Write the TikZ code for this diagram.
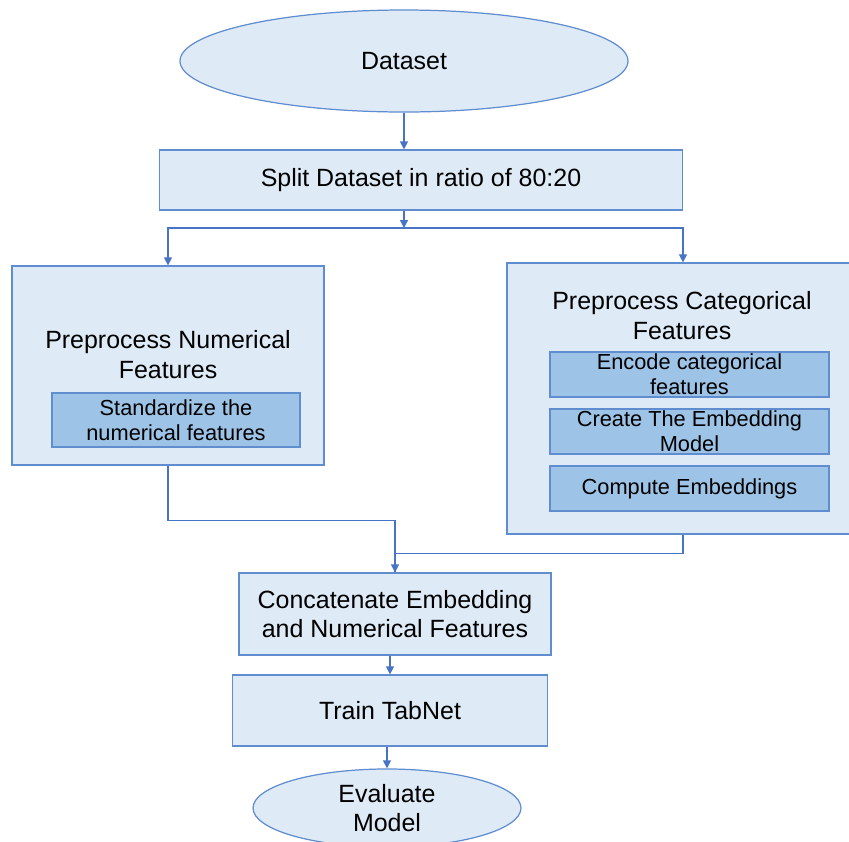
\documentclass[tikz,border=0pt]{standalone}
\usepackage{fontspec}
\setmainfont{Liberation Sans}
\usetikzlibrary{arrows.meta,positioning,shapes.geometric}
\definecolor{boxfill}{RGB}{222,235,247}
\definecolor{subfill}{RGB}{157,195,230}
\definecolor{boxline}{RGB}{96,140,208}
\definecolor{arrline}{RGB}{72,116,198}

\begin{document}
\begin{tikzpicture}[
      x=0.2mm, y=-0.2mm,
      every node/.style={font=\fontsize{14.2}{16.6}\selectfont, text=black},
      termnode/.style={
        ellipse, draw=boxline, fill=boxfill, line width=0.7pt,
        align=center, inner sep=0pt
      },
      stepbox/.style={
        rectangle, draw=boxline, fill=boxfill, line width=0.7pt,
        align=center, inner sep=2pt
      },
      titletext/.style={align=center, inner sep=0pt},
      subbox/.style={
        rectangle, draw=boxline, fill=subfill, line width=0.7pt,
        align=center, inner sep=1pt,
        font=\fontsize{12.4}{14.2}\selectfont
      },
      arr/.style={-{Triangle[length=1.6mm,width=1.6mm]}, draw=arrline, line width=0.7pt},
      plain/.style={draw=arrline, line width=0.7pt}
    ]
    \useasboundingbox (0,0) rectangle (849,842);

    % ===== Top: input and split =====
    \node[termnode, minimum width=8.96cm, minimum height=2.04cm] (dataset) at (404,61) {Dataset};
    \node[stepbox, minimum width=10.46cm, minimum height=1.2cm] (split) at (421,180) {Split Dataset in ratio of 80:20};
    \coordinate (fork) at (404,228);

    % ===== Middle: the two preprocessing branches =====
    \node[stepbox, minimum width=6.24cm, minimum height=3.98cm] (numer) at (168,365.5) {};
    \node[titletext] (numtitle) at (168,354.5) {Preprocess Numerical\\Features};
    \node[subbox, minimum width=4.96cm, minimum height=1.08cm] (stdz) at (176,420) {Standardize the\\numerical features};

    \node[stepbox, minimum width=7.04cm, minimum height=5.42cm] (categ) at (683,398.5) {};
    \node[titletext] (cattitle) at (682,315.5) {Preprocess Categorical\\Features};
    \node[subbox, minimum width=5.58cm, minimum height=0.9cm] (encode) at (689.5,374.5) {Encode categorical\\features};
    \node[subbox, minimum width=5.58cm, minimum height=0.9cm] (create) at (689.5,431.5) {Create The Embedding\\Model};
    \node[subbox, minimum width=5.58cm, minimum height=0.9cm] (compute) at (689.5,488.5) {Compute Embeddings};

    % ===== Bottom: merge, train, evaluate =====
    \node[stepbox, minimum width=6.24cm, minimum height=1.64cm] (concat) at (395,614) {Concatenate Embedding\\and Numerical Features};
    \node[stepbox, minimum width=6.3cm, minimum height=1.42cm] (train) at (390,710.5) {Train TabNet};
    \node[termnode, minimum width=5.36cm, minimum height=1.56cm] (evaluate) at (387,808) {Evaluate\\Model};

    % ===== Arrows =====
    \draw[arr] (dataset.south) -- (dataset.south |- split.north);
    \draw[arr] (split.south -| fork) -- (fork);
    \draw[arr] (fork) -| (numer.north);
    \draw[arr] (fork) -| (categ.north);
    \draw[arr] (numer.south) -- ++(0,55) -| (concat.north);
    \draw[plain] (categ.south) -- ++(0,19) -| (concat.north);
    \draw[arr] (concat.south -| train.north) -- (train.north);
    \draw[arr] (train.south -| evaluate.north) -- (evaluate.north);
  \end{tikzpicture}
\end{document}
